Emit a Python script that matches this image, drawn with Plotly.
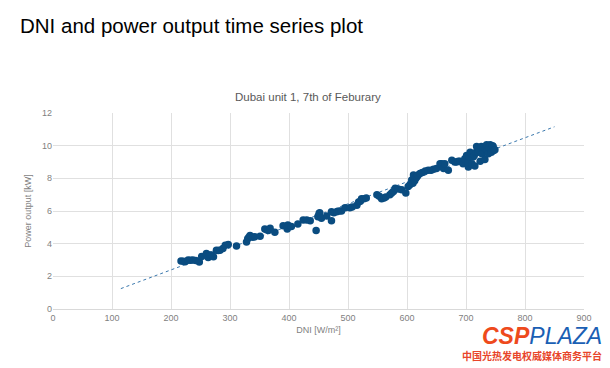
import numpy as np
import plotly.graph_objects as go

# DNI [W/m²] readings and corresponding power output [kW]
dni = [217, 221, 224, 229, 233, 237, 242, 248, 252, 260, 263, 266, 269, 272, 277, 280, 283, 288, 292, 297,
       311, 328, 330, 332, 334, 339, 342, 351, 359, 362, 365, 368, 376, 390, 397, 398, 404, 415, 424, 430,
       436, 446, 449, 450, 451, 452, 455, 464, 472, 472, 476, 481, 485, 489, 495, 503, 507, 515, 518, 521,
       523, 527, 531, 549, 553, 557, 561, 564, 571, 574, 577, 580, 585, 591, 598, 602, 605, 608, 610, 611,
       613, 615, 617, 619, 622, 626, 631, 636, 641, 645, 650, 656, 659, 662, 664, 670, 676, 681, 684, 687,
       690, 695, 698, 701, 703, 704, 706, 707, 709, 710, 712, 714, 715, 717, 718, 720, 721, 723, 724, 726,
       727, 729, 730, 732, 733, 735, 736, 738, 739, 741, 742, 743, 745, 746, 747, 749]
power = [2.94, 2.92, 2.9, 3.0, 2.98, 3.0, 2.97, 2.87, 3.22, 3.4, 3.15, 3.3, 3.3, 3.2, 3.6, 3.58, 3.6, 3.7, 3.9, 3.95,
         3.85, 4.1, 4.3, 4.4, 4.5, 4.4, 4.42, 4.45, 4.9, 4.85, 4.8, 4.95, 4.7, 5.1, 4.9, 5.15, 5.05, 5.2, 5.45, 5.45,
         5.4, 4.8, 5.65, 5.7, 5.85, 5.9, 5.55, 5.7, 5.95, 5.4, 5.9, 5.95, 6.0, 6.0, 6.2, 6.2, 6.25, 6.35, 6.55, 6.6,
         6.75, 6.75, 6.8, 7.0, 6.9, 6.75, 6.8, 6.85, 7.0, 7.1, 7.2, 7.4, 7.35, 7.3, 7.1, 7.5, 7.6, 7.9, 7.7, 8.2,
         7.85, 8.0, 8.1, 8.2, 8.3, 8.35, 8.45, 8.5, 8.5, 8.55, 8.6, 8.9, 8.9, 8.6, 8.9, 8.5, 9.1, 9.0, 9.0, 9.05,
         9.05, 8.9, 9.2, 9.4, 9.0, 8.7, 9.3, 9.6, 9.5, 8.9, 9.3, 9.4, 8.75, 9.6, 9.95, 9.8, 9.6, 9.7, 9.05, 9.95,
         9.5, 9.75, 9.9, 9.15, 9.8, 10.05, 9.7, 9.5, 9.9, 10.05, 9.8, 9.6, 10.0, 9.95, 9.7, 9.75]
trend_range = [115, 850]
x_ticks = [0, 100, 200, 300, 400, 500, 600, 700, 800, 900]
y_ticks = [0, 2, 4, 6, 8, 10, 12]

slope, intercept = np.polyfit(dni, power, 1)
trend_x = np.array(trend_range, dtype=float)
trend_y = slope * trend_x + intercept

fig = go.Figure()
fig.add_trace(go.Scatter(x=trend_x, y=trend_y, mode="lines",
                         line=dict(color="#3a78ad", width=1, dash="dot"),
                         hoverinfo="skip", showlegend=False))
fig.add_trace(go.Scatter(x=dni, y=power, mode="markers",
                         marker=dict(color="#0a4c80", size=7.5, line=dict(width=0)),
                         showlegend=False))

axis_font = dict(family="Liberation Sans, Arial, sans-serif", size=9, color="#7f7f7f")
fig.update_xaxes(range=[0, 900], tickvals=x_ticks, showgrid=True, gridcolor="#e0e0e0", gridwidth=1,
                 zeroline=False, showline=True, linecolor="#d9d9d9", ticks="", tickfont=axis_font,
                 automargin=False,
                 title=dict(text="DNI [W/m²]", font=axis_font, standoff=4))
fig.update_yaxes(range=[0, 12], tickvals=y_ticks, showgrid=True, gridcolor="#e0e0e0", gridwidth=1,
                 zeroline=False, showline=False, ticks="", tickfont=axis_font,
                 automargin=False,
                 title=dict(text="Power output [kW]", font=axis_font, standoff=8))

fig.update_layout(
    width=602, height=360,
    margin=dict(l=45, r=26, t=105, b=59),
    paper_bgcolor="white", plot_bgcolor="white",
    font=dict(family="Liberation Sans, Arial, sans-serif"),
    annotations=[
        dict(text="DNI and power output time series plot", xref="paper", yref="paper",
             x=-0.066, y=1.0, xanchor="left", yanchor="bottom", yshift=74, showarrow=False,
             font=dict(family="Liberation Sans, Arial, sans-serif", size=20.5, color="#000000")),
        dict(text="Dubai unit 1, 7th of Feburary", xref="paper", yref="paper",
             x=0.48, y=1.0, xanchor="center", yanchor="bottom", yshift=8, showarrow=False,
             font=dict(family="Liberation Sans, Arial, sans-serif", size=11.5, color="#595959")),
        dict(text="<span style='color:#ee4a1c'><b><i>CSP</i></b></span><i>PLAZA</i>",
             xref="paper", yref="paper",
             x=1.038, y=0.0, xanchor="right", yanchor="top", yshift=-12, showarrow=False,
             font=dict(family="Liberation Sans, Arial, sans-serif", size=23, color="#1a5fb4")),
        dict(text="<b>中国光热发电权威媒体商务平台</b>", xref="paper", yref="paper",
             x=1.038, y=0.0, xanchor="right", yanchor="top", yshift=-37, showarrow=False,
             font=dict(family="Noto Sans CJK SC, sans-serif", size=10, color="#e8452a")),
    ],
)

fig.write_html("out.html")
